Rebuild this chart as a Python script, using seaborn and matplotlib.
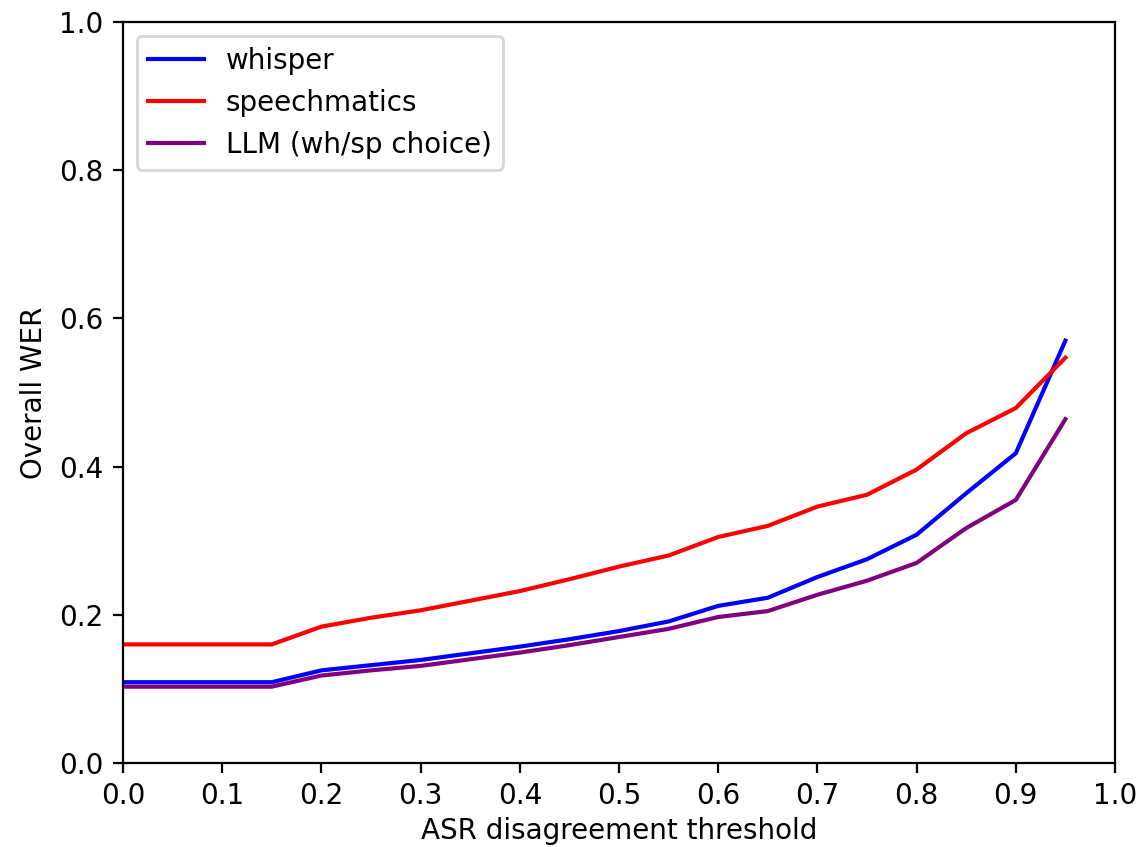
import matplotlib
matplotlib.use("Agg")
import matplotlib.pyplot as plt
import numpy as np
import pandas as pd
import seaborn as sns


# ASR disagreement thresholds
thresholds = [0.00, 0.05, 0.10, 0.15, 0.20, 0.25, 0.30, 0.35, 0.40, 0.45,
              0.50, 0.55, 0.60, 0.65, 0.70, 0.75, 0.80, 0.85, 0.90, 0.95]

wer_whisper = [0.109, 0.109, 0.109, 0.109, 0.125, 0.132, 0.139, 0.148, 0.157, 0.167,
               0.178, 0.191, 0.212, 0.223, 0.251, 0.275, 0.308, 0.364, 0.418, 0.570]
wer_speechmatics = [0.160, 0.160, 0.160, 0.160, 0.184, 0.196, 0.206, 0.219, 0.232, 0.248,
                    0.265, 0.280, 0.305, 0.320, 0.346, 0.362, 0.396, 0.445, 0.479, 0.547]
wer_llm = [0.103, 0.103, 0.103, 0.103, 0.118, 0.125, 0.131, 0.140, 0.149, 0.159,
           0.170, 0.181, 0.197, 0.205, 0.227, 0.246, 0.270, 0.317, 0.355, 0.464]

series_names = ['whisper', 'speechmatics', 'LLM (wh/sp choice)']
series_colors = ['blue', 'red', 'purple']

df = pd.DataFrame({
    'threshold': thresholds * 3,
    'wer': wer_whisper + wer_speechmatics + wer_llm,
    'system': np.repeat(series_names, len(thresholds)),
})

fig, ax = plt.subplots(figsize=(1143 / 200, 847 / 200), dpi=200)
fig.subplots_adjust(left=0.1076, right=0.9755, top=0.974, bottom=0.0992)

sns.lineplot(data=df, x='threshold', y='wer', hue='system',
             hue_order=series_names, palette=series_colors,
             linewidth=1.5, ax=ax)

ax.set_xlim(0, 1)
ax.set_ylim(0, 1)
ax.set_xticks(np.arange(0, 1.01, 0.1))
ax.set_yticks(np.arange(0, 1.01, 0.2))
ax.set_xlabel('ASR disagreement threshold', labelpad=2.5)
ax.set_ylabel('Overall WER')
ax.legend(loc='upper left')

fig.savefig('out.png', dpi=200)
